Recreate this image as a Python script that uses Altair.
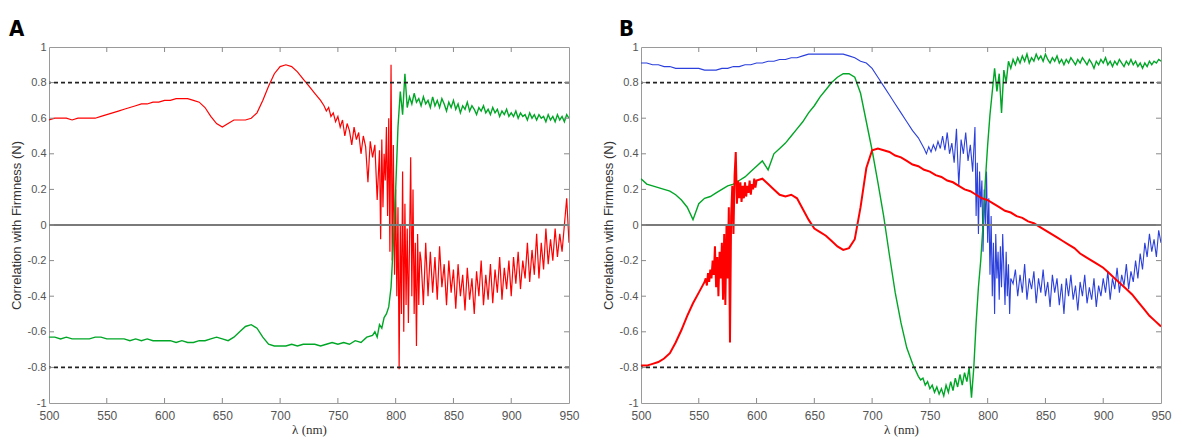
import altair as alt
import pandas as pd

# ---------------- data ----------------
# each segment: (start wavelength, step, values)
a_red = [
    (500, 5, [0.59, 0.60, 0.60, 0.60, 0.59, 0.60, 0.60, 0.60, 0.60, 0.61, 0.62, 0.63, 0.64, 0.65,
              0.66, 0.67, 0.68, 0.68, 0.69, 0.69, 0.70, 0.70, 0.71, 0.71, 0.71, 0.70, 0.69, 0.66,
              0.61, 0.57, 0.55, 0.57, 0.59, 0.59, 0.59, 0.60, 0.63, 0.70, 0.78, 0.85, 0.89, 0.90,
              0.89, 0.86, 0.82, 0.78, 0.74, 0.70]),
    (738, 2, [0.67, 0.64, 0.66, 0.61, 0.63, 0.58, 0.61, 0.55, 0.59, 0.50, 0.57, 0.53, 0.45, 0.55,
              0.48, 0.52, 0.40, 0.50, 0.44, 0.24, 0.47, 0.38, 0.45, 0.14, 0.42]),
    (787, 1, [-0.08, 0.48, 0.10, 0.40, 0.25, 0.55, 0.05, 0.60, -0.15, 0.90, -0.20, 0.45, -0.28,
              0.20, -0.40, 0.10, -0.81, 0.00, -0.50, 0.30, -0.60, 0.12, -0.45, -0.02, -0.55, -0.10,
              0.38, -0.40, 0.20, -0.50, -0.10, -0.68, -0.05, -0.45, -0.15]),
    (822, 2, [-0.20, -0.45, -0.10, -0.40, -0.15, -0.38, -0.18, -0.42, -0.12, -0.35, -0.22, -0.45,
              -0.20, -0.38, -0.25, -0.47, -0.22, -0.40, -0.28, -0.48, -0.24, -0.42, -0.30, -0.50,
              -0.26, -0.40, -0.20, -0.45, -0.28, -0.42, -0.22, -0.44, -0.25, -0.38, -0.18, -0.42,
              -0.24, -0.36, -0.20, -0.40, -0.18, -0.33, -0.15, -0.36, -0.20, -0.30, -0.10, -0.32,
              -0.14, -0.28, -0.05, -0.30, -0.10, -0.25, -0.02, -0.22, -0.08, -0.20, -0.02, -0.18,
              -0.05, -0.15, 0.00, 0.15, -0.10]),
]
a_green = [
    (500, 5, [-0.63, -0.63, -0.64, -0.63, -0.64, -0.64, -0.64, -0.64, -0.63, -0.63, -0.64, -0.64,
              -0.64, -0.64, -0.65, -0.64, -0.65, -0.64, -0.65, -0.65, -0.65, -0.65, -0.66, -0.65,
              -0.66, -0.66, -0.65, -0.65, -0.64, -0.63, -0.64, -0.65, -0.63, -0.60, -0.57, -0.56,
              -0.58, -0.63, -0.67, -0.68, -0.68, -0.68, -0.67, -0.68, -0.67, -0.67, -0.67, -0.68,
              -0.67, -0.66, -0.67, -0.66, -0.67, -0.65, -0.66, -0.63, -0.62]),
    (782, 2, [-0.60, -0.63, -0.56, -0.58, -0.52, -0.50, -0.46, -0.35, -0.10, 0.20, 0.55, 0.75,
              0.62, 0.85, 0.66, 0.72, 0.68, 0.74, 0.69, 0.71, 0.67, 0.72, 0.68, 0.70, 0.66]),
    (832, 2, [0.72, 0.67, 0.70, 0.66, 0.71, 0.68, 0.64, 0.69, 0.66, 0.70, 0.65, 0.68, 0.63, 0.67,
              0.65, 0.69, 0.64, 0.67, 0.65, 0.62, 0.66, 0.64, 0.67, 0.63, 0.65, 0.62, 0.66, 0.63,
              0.65, 0.61, 0.64, 0.62, 0.65, 0.61, 0.63, 0.61, 0.64, 0.60, 0.63, 0.61, 0.62, 0.59,
              0.63, 0.60, 0.62, 0.59, 0.62, 0.60, 0.61, 0.58, 0.62, 0.59, 0.61, 0.58, 0.62, 0.59,
              0.61, 0.58, 0.62, 0.60]),
]
b_blue = [
    (500, 5, [0.91, 0.91, 0.90, 0.90, 0.89, 0.89, 0.88, 0.88, 0.88, 0.88, 0.88, 0.87, 0.87, 0.87,
              0.88, 0.88, 0.89, 0.89, 0.90, 0.90, 0.91, 0.91, 0.92, 0.92, 0.93, 0.93, 0.94, 0.94,
              0.95, 0.96, 0.96, 0.96, 0.96, 0.96, 0.96, 0.96, 0.95, 0.94, 0.92, 0.91, 0.88, 0.83,
              0.78, 0.73, 0.68, 0.63, 0.58, 0.53, 0.49, 0.43]),
    (747, 2, [0.40, 0.44, 0.41, 0.45, 0.42, 0.47, 0.43, 0.50, 0.42, 0.52, 0.40, 0.46, 0.35, 0.54,
              0.22, 0.48, 0.40, 0.52, 0.36, 0.45, 0.30, 0.55]),
    (790, 1, [0.05, 0.35, -0.05, 0.30, 0.10, 0.25, -0.15, 0.20, 0.00, 0.30, -0.10, 0.15, -0.28,
              0.05, -0.40, -0.10, -0.50, -0.05, -0.30, -0.15, -0.42, -0.12, -0.35, -0.05, -0.25,
              -0.45, -0.15, -0.40, -0.22, -0.50, -0.30]),
    (822, 2, [-0.33, -0.25, -0.40, -0.28, -0.38, -0.22, -0.42, -0.30, -0.36, -0.26, -0.44, -0.30,
              -0.38, -0.25, -0.40, -0.32, -0.46, -0.28, -0.38, -0.30, -0.45, -0.33, -0.50, -0.30,
              -0.40, -0.28, -0.42, -0.34, -0.48, -0.32, -0.40, -0.28, -0.44, -0.35, -0.42, -0.30,
              -0.46, -0.34, -0.40, -0.30, -0.38, -0.26, -0.42, -0.30, -0.36, -0.24, -0.38, -0.28,
              -0.34, -0.22, -0.36, -0.26, -0.32, -0.20, -0.30, -0.16, -0.25, -0.10, -0.18, -0.05,
              -0.15, -0.08, -0.18, -0.03, -0.10]),
]
b_green = [
    (500, 5, [0.26, 0.23, 0.22, 0.21, 0.20, 0.19, 0.17, 0.14, 0.10, 0.03, 0.12, 0.15, 0.16, 0.18,
              0.20, 0.22, 0.23, 0.25, 0.27, 0.30, 0.33, 0.36, 0.31, 0.40, 0.43, 0.46, 0.50, 0.54,
              0.58, 0.63, 0.67, 0.72, 0.76, 0.80, 0.83, 0.85, 0.85, 0.83, 0.74, 0.58, 0.42, 0.24,
              0.05, -0.17, -0.38, -0.55, -0.69, -0.78]),
    (740, 2, [-0.85, -0.87, -0.86, -0.90, -0.88, -0.92, -0.90, -0.94, -0.91, -0.95, -0.92, -0.96,
              -0.90, -0.94, -0.88, -0.93, -0.86, -0.91, -0.84, -0.90, -0.83, -0.88, -0.80, -0.97,
              -0.80, -0.55, -0.35, -0.20, 0.00, 0.25, 0.45, 0.62, 0.75, 0.88, 0.75, 0.85, 0.63,
              0.87, 0.80, 0.92, 0.88]),
    (822, 2, [0.93, 0.90, 0.94, 0.91, 0.95, 0.92, 0.96, 0.91, 0.94, 0.92, 0.96, 0.93, 0.95, 0.92,
              0.96, 0.93, 0.91, 0.94, 0.92, 0.95, 0.91, 0.93, 0.90, 0.93, 0.91, 0.94, 0.92, 0.90,
              0.93, 0.91, 0.94, 0.92, 0.90, 0.93, 0.91, 0.88, 0.92, 0.90, 0.93, 0.91, 0.94, 0.90,
              0.92, 0.89, 0.92, 0.90, 0.93, 0.91, 0.89, 0.92, 0.90, 0.93, 0.90, 0.92, 0.89, 0.91,
              0.88, 0.91, 0.89, 0.92, 0.90, 0.92, 0.91, 0.93, 0.92]),
]
b_red = [
    (500, 5, [-0.79, -0.79, -0.78, -0.77, -0.75, -0.72, -0.66, -0.59, -0.51, -0.44, -0.38, -0.32]),
    (556, 1, [-0.30, -0.34, -0.27, -0.32, -0.25, -0.30, -0.20, -0.28, -0.12, -0.35, -0.18, -0.40,
              -0.15, -0.30, -0.10, -0.42, -0.05, -0.45, 0.00, -0.30, 0.10, -0.66, 0.05, 0.22,
              -0.05, 0.28, 0.41, 0.12, 0.25, 0.15, 0.24, 0.13, 0.22, 0.15, 0.24, 0.16, 0.22, 0.18,
              0.25, 0.17, 0.23, 0.20, 0.26, 0.21, 0.25]),
    (605, 5, [0.26, 0.23, 0.20, 0.17, 0.16, 0.17, 0.15, 0.09, 0.03, -0.02, -0.04, -0.06, -0.09,
              -0.12, -0.14, -0.13, -0.08, 0.10, 0.32, 0.42, 0.43, 0.42, 0.41]),
    (720, 5, [0.39, 0.38, 0.36, 0.34, 0.33, 0.31, 0.30, 0.28, 0.27, 0.25, 0.24, 0.22, 0.20, 0.19,
              0.17, 0.15, 0.14, 0.12, 0.10, 0.08, 0.07, 0.05, 0.04, 0.02, 0.01, -0.01, -0.03,
              -0.05, -0.07, -0.09, -0.11, -0.13, -0.16, -0.18, -0.20, -0.22, -0.24, -0.27, -0.30,
              -0.33, -0.36, -0.39, -0.43, -0.47, -0.51, -0.54, -0.57]),
]

x_ticks = [500, 550, 600, 650, 700, 750, 800, 850, 900, 950]
y_ticks = [-1, -0.8, -0.6, -0.4, -0.2, 0, 0.2, 0.4, 0.6, 0.8, 1]
ref_lines = [0.8, -0.8]

RED, GREEN, BLUE = "#ff0000", "#00a626", "#2b40dc"
LABEL_FONT = "Liberation Sans Narrow, Liberation Sans, Arial, sans-serif"
W, H = 520, 356


def series_df(segments):
    rows = []
    for start, step, vals in segments:
        for i, v in enumerate(vals):
            rows.append({"x": start + step * i, "y": v})
    return pd.DataFrame(rows)


XS = alt.Scale(domain=[500, 950], nice=False, zero=False)
YS = alt.Scale(domain=[-1, 1], nice=False)

X_AXIS = alt.Axis(values=x_ticks, format="d", ticks=False, domain=False, grid=False,
                  labelFlush=False, labelOverlap=False,
                  labelFontSize=12, labelColor="#555", labelFont=LABEL_FONT, labelPadding=7,
                  title="λ (nm)", titleFontSize=13, titleFontWeight="normal",
                  titleColor="#333", titleFont="Liberation Serif, serif", titlePadding=2)
Y_AXIS = alt.Axis(values=y_ticks, ticks=False, domain=False, grid=False,
                  labelFlush=False, labelOverlap=False,
                  labelExpr="replace(format(datum.value, '.1~f'), '\u2212', '-')",
                  labelFontSize=11, labelColor="#555", labelFont=LABEL_FONT, labelPadding=3,
                  title="Correlation with Firmness (N)", titleFontSize=13,
                  titleFontWeight="normal", titleColor="#333",
                  titleFont="Liberation Sans, Arial, sans-serif", titlePadding=4)


def panel(letter, series, dx):
    layers = []
    for segs, color, width in series:
        ch = alt.Chart(series_df(segs)).mark_line(color=color, strokeWidth=width, clip=True).encode(
            x=alt.X("x:Q", scale=XS, axis=X_AXIS),
            y=alt.Y("y:Q", scale=YS, axis=Y_AXIS),
            order=alt.Order("x:Q"),
        )
        layers.append(ch)
    zero = alt.Chart(pd.DataFrame({"y": [0]})).mark_rule(color="#7a7a7a", strokeWidth=2).encode(
        y=alt.Y("y:Q", scale=YS, axis=Y_AXIS))
    dashed = alt.Chart(pd.DataFrame({"y": ref_lines})).mark_rule(
        color="#222", strokeDash=[4, 3], strokeWidth=1.6).encode(
        y=alt.Y("y:Q", scale=YS, axis=Y_AXIS))
    # inward tick marks on all four sides
    tx = 450 * 5 / W
    ty = 2 * 5 / H
    trows = []
    for v in x_ticks[1:-1]:
        trows.append({"x": v, "x2": v, "y": -1, "y2": -1 + ty})
        trows.append({"x": v, "x2": v, "y": 1, "y2": 1 - ty})
    for v in y_ticks[1:-1]:
        trows.append({"x": 500, "x2": 500 + tx, "y": v, "y2": v})
        trows.append({"x": 950, "x2": 950 - tx, "y": v, "y2": v})
    ticks = alt.Chart(pd.DataFrame(trows)).mark_rule(color="#8a8a8a", strokeWidth=1).encode(
        x=alt.X("x:Q", scale=XS, axis=X_AXIS), x2="x2:Q",
        y=alt.Y("y:Q", scale=YS, axis=Y_AXIS), y2="y2:Q")
    return alt.layer(*layers, zero, dashed, ticks).properties(
        width=W, height=H,
        title=alt.TitleParams(letter, anchor="start", frame="group", dx=dx, fontSize=22,
                              fontWeight="bold", color="#000", offset=0,
                              font="DejaVu Sans Condensed, Liberation Sans Narrow, sans-serif"))


pa = panel("A", [(a_red, RED, 1.2), (a_green, GREEN, 1.4)], -40)
pb = panel("B", [(b_blue, BLUE, 1.1), (b_green, GREEN, 1.4), (b_red, RED, 2.0)], -22)

chart = alt.hconcat(pa, pb, spacing=21).properties(
    padding={"left": 0, "top": 9, "right": 0, "bottom": 0}
).configure_view(stroke="#9a9a9a", strokeWidth=1)

chart.save("out.html", embed_options={"renderer": "svg", "actions": False})
